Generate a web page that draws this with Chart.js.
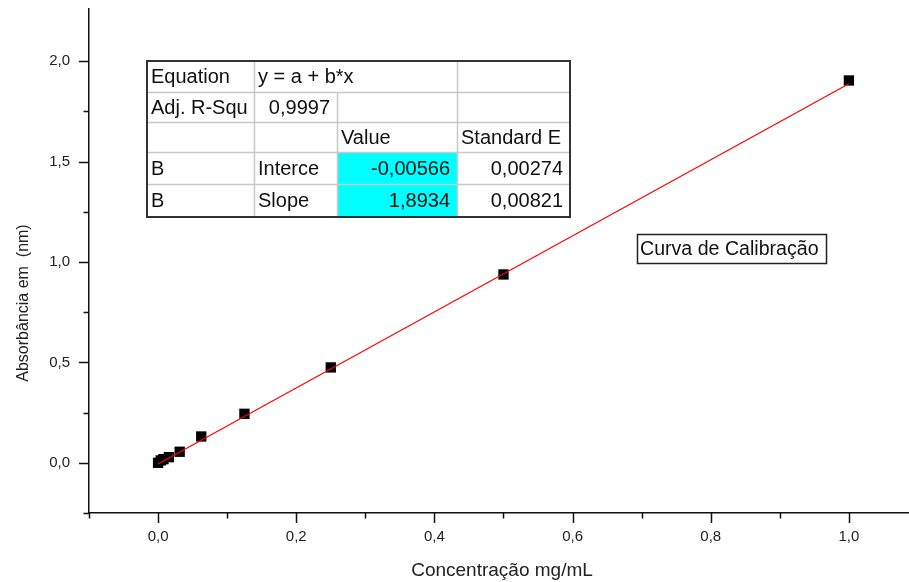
<!DOCTYPE html>
<html><head><meta charset="utf-8">
<script src="https://cdn.jsdelivr.net/npm/chart.js@4.4.1/dist/chart.umd.min.js"></script>
<style>html,body{margin:0;padding:0;background:#fff;overflow:hidden}#wrap{position:relative;width:909px;height:582px}</style>
</head><body><div id="wrap"><canvas id="c"></canvas></div>
<script>
// ---- data ----
const concentration = [0, 0.0039, 0.0078, 0.0156, 0.03125, 0.0625, 0.125, 0.25, 0.5, 1.0];
const absorbance    = [0.0, 0.012, 0.018, 0.028, 0.055, 0.131, 0.244, 0.475, 0.938, 1.904];
const fitX = [0, 1.0];
const fitY = [-0.00566, 1.88774];
const xMajorTicks = [0, 0.2, 0.4, 0.6, 0.8, 1.0];
const xMinorTicks = [-0.1, 0.1, 0.3, 0.5, 0.7, 0.9];
const yMajorTicks = [0, 0.5, 1.0, 1.5, 2.0];
const yMinorTicks = [-0.25, 0.25, 0.75, 1.25, 1.75];
const xTitle = 'Concentração mg/mL';
const yTitle = 'Absorbância em  (nm)';
const legendLabel = 'Curva de Calibração';
const tableRow1 = ['Equation', 'y = a + b*x', '', ''];
const tableRow2 = ['Adj. R-Squ', '0,9997', '', ''];
const tableRow3 = ['', '', 'Value', 'Standard E'];
const tableRow4 = ['B', 'Interce', '-0,00566', '0,00274'];
const tableRow5 = ['B', 'Slope', '1,8934', '0,00821'];

const FONT = "'Liberation Sans', Arial, sans-serif";
const fmt = v => Number(v).toFixed(1).replace('.', ',');
const noPad = s => { s.paddingTop = 0; s.paddingBottom = 0; s.paddingLeft = 0; s.paddingRight = 0; };

const ticksPlugin = {
  id: 'ticksMarks',
  afterDraw(chart) {
    const {ctx, chartArea: a, scales: {x, y}} = chart;
    ctx.save();
    ctx.strokeStyle = '#111';
    ctx.lineWidth = 1.5;
    ctx.beginPath();
    xMajorTicks.forEach(v => { const p = Math.round(x.getPixelForValue(v)) + 0.5; ctx.moveTo(p, a.bottom); ctx.lineTo(p, a.bottom + 10); });
    xMinorTicks.forEach(v => { const p = Math.round(x.getPixelForValue(v)) + 0.5; ctx.moveTo(p, a.bottom); ctx.lineTo(p, a.bottom + 5.5); });
    yMajorTicks.forEach(v => { const p = Math.round(y.getPixelForValue(v)) + 0.5; ctx.moveTo(a.left, p); ctx.lineTo(a.left - 10, p); });
    yMinorTicks.forEach(v => { const p = Math.round(y.getPixelForValue(v)) + 0.5; ctx.moveTo(a.left, p); ctx.lineTo(a.left - 5.5, p); });
    ctx.stroke();

    // axis titles
    ctx.fillStyle = '#222';
    ctx.textAlign = 'center';
    ctx.textBaseline = 'middle';
    ctx.font = '19px ' + FONT;
    ctx.fillText(xTitle, 502, 571);
    ctx.save();
    ctx.translate(24, 303);
    ctx.rotate(-Math.PI / 2);
    ctx.font = '16px ' + FONT;
    ctx.fillText(yTitle, 0, 0);
    ctx.restore();

    // legend box
    ctx.fillStyle = '#fff';
    ctx.fillRect(637, 234, 190, 30);
    ctx.strokeStyle = '#222';
    ctx.lineWidth = 1.5;
    ctx.strokeRect(637.5, 234.5, 189, 29);
    ctx.fillStyle = '#111';
    ctx.font = '19.6px ' + FONT;
    ctx.textAlign = 'left';
    ctx.fillText(legendLabel, 640, 250);

    // fit table
    const rows = [tableRow1, tableRow2, tableRow3, tableRow4, tableRow5];
    const cx = [147, 254, 337, 457, 570];
    const ry = [61, 92, 122, 152, 184, 217];
    ctx.fillStyle = '#fff';
    ctx.fillRect(cx[0], ry[0], cx[4] - cx[0], ry[5] - ry[0]);
    ctx.fillStyle = '#00ffff';
    ctx.fillRect(cx[2], ry[3], cx[3] - cx[2], ry[5] - ry[3]);
    ctx.strokeStyle = '#c8c8c8';
    ctx.lineWidth = 1.5;
    ctx.beginPath();
    for (let r = 1; r < 5; r++) { ctx.moveTo(cx[0], ry[r] + 0.5); ctx.lineTo(cx[4], ry[r] + 0.5); }
    for (let c = 1; c < 4; c++) {
      const startRow = (c === 2) ? 1 : 0;
      ctx.moveTo(cx[c] + 0.5, ry[startRow]); ctx.lineTo(cx[c] + 0.5, ry[5]);
    }
    ctx.stroke();
    ctx.strokeStyle = '#333';
    ctx.lineWidth = 2;
    ctx.strokeRect(cx[0], ry[0], cx[4] - cx[0], ry[5] - ry[0]);
    ctx.fillStyle = '#111';
    ctx.font = '20px ' + FONT;
    rows.forEach((row, r) => {
      const yMid = (ry[r] + ry[r + 1]) / 2 + 1;
      row.forEach((txt, c) => {
        if (!txt) return;
        const numeric = /^-?[0-9]/.test(txt) && r >= 1;
        if (numeric) {
          ctx.textAlign = 'right';
          ctx.fillText(txt, cx[c + 1] - 7, yMid);
        } else {
          ctx.textAlign = 'left';
          ctx.save();
          ctx.beginPath();
          ctx.rect(cx[c], ry[r], (r === 0 && c === 1 ? cx[3] : cx[c + 1]) - cx[c], ry[r + 1] - ry[r]);
          ctx.clip();
          ctx.fillText(txt, cx[c] + 4, yMid);
          ctx.restore();
        }
      });
    });
    ctx.restore();
  }
};

new Chart(document.getElementById('c'), {
  type: 'scatter',
  data: {
    datasets: [
      {
        type: 'line',
        label: 'fit',
        data: fitX.map((v, i) => ({x: v, y: fitY[i]})),
        borderColor: '#ff0000',
        borderWidth: 1.2,
        pointRadius: 0,
        fill: false,
        order: 0
      },
      {
        label: legendLabel,
        data: concentration.map((v, i) => ({x: v, y: absorbance[i]})),
        pointStyle: 'rect',
        pointRadius: 7.3,
        pointHoverRadius: 7.3,
        backgroundColor: '#000',
        borderColor: '#000',
        borderWidth: 0,
        order: 1
      }
    ]
  },
  options: {
    responsive: true,
    maintainAspectRatio: false,
    animation: false,
    events: [],
    layout: {autoPadding: false, padding: {top: 9, left: 0, right: 0, bottom: 0}},
    plugins: {legend: {display: false}, tooltip: {enabled: false}, title: {display: false}},
    scales: {
      x: {
        type: 'linear', min: -0.1, max: 1.087,
        afterFit: s => { s.height = 69; noPad(s); },
        afterBuildTicks: s => { s.ticks = xMajorTicks.map(v => ({value: v})); },
        grid: {display: false, drawTicks: false, tickLength: 0},
        border: {display: true, color: '#111', width: 1.5},
        ticks: {padding: 15, maxRotation: 0, autoSkip: false, color: '#222', font: {family: FONT, size: 15}, callback: v => fmt(v)}
      },
      y: {
        type: 'linear', min: -0.25, max: 2.26,
        afterFit: s => { s.width = 89; noPad(s); },
        afterBuildTicks: s => { s.ticks = yMajorTicks.map(v => ({value: v})); },
        grid: {display: false, drawTicks: false, tickLength: 0},
        border: {display: true, color: '#111', width: 1.5},
        ticks: {padding: 19, autoSkip: false, color: '#222', font: {family: FONT, size: 15}, callback: v => fmt(v)}
      }
    }
  },
  plugins: [ticksPlugin]
});
</script>
</body></html>
